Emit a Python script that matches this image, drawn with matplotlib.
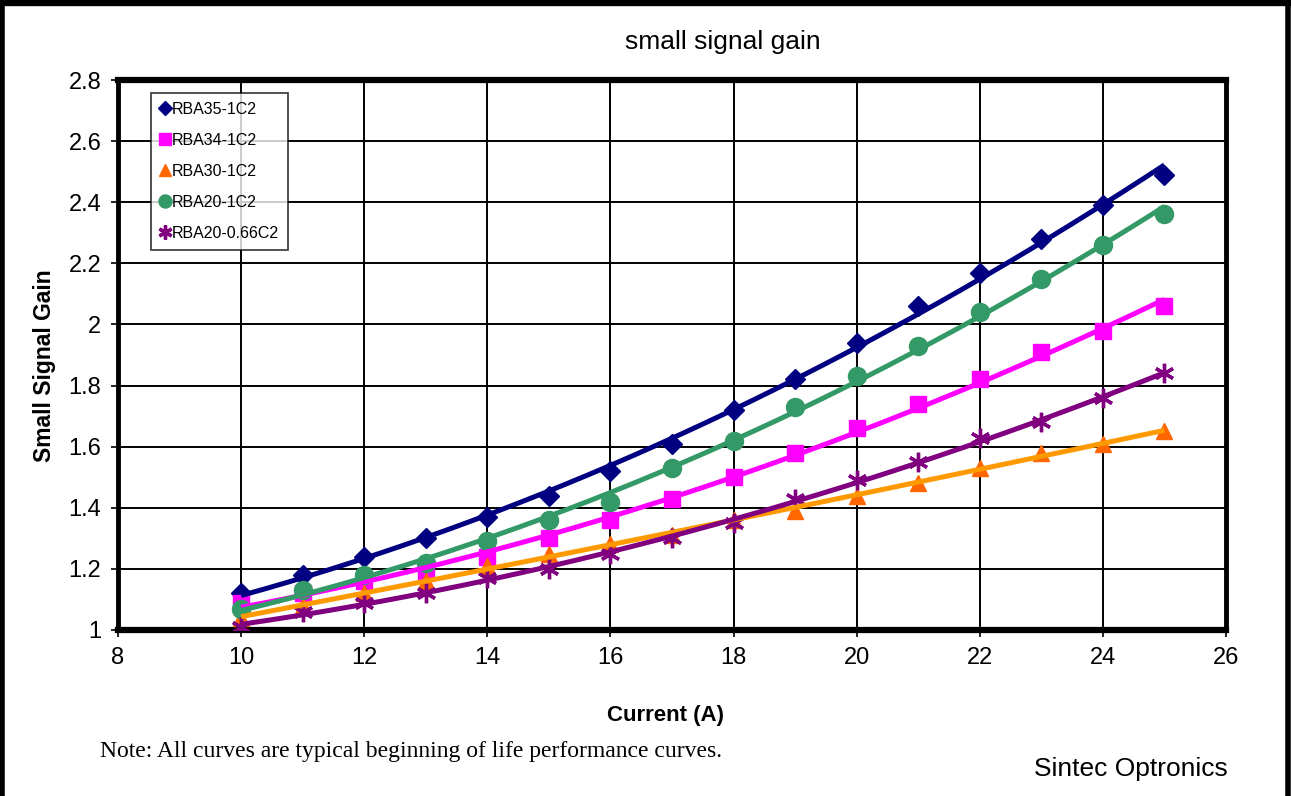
import numpy as np
import matplotlib
matplotlib.use("Agg")
import matplotlib.pyplot as plt
from matplotlib.lines import Line2D

# ==========================================
# DONNEES
# ==========================================
current = [10, 11, 12, 13, 14, 15, 16, 17, 18, 19, 20, 21, 22, 23, 24, 25]

rba35_1c2 = [1.12, 1.18, 1.24, 1.30, 1.37, 1.44, 1.52, 1.61, 1.72, 1.82, 1.94, 2.06, 2.17, 2.28, 2.39, 2.49]
rba34_1c2 = [1.09, 1.12, 1.16, 1.19, 1.24, 1.30, 1.36, 1.43, 1.50, 1.58, 1.66, 1.74, 1.82, 1.91, 1.98, 2.06]
rba30_1c2 = [1.04, 1.08, 1.12, 1.16, 1.21, 1.25, 1.28, 1.31, 1.36, 1.39, 1.44, 1.48, 1.53, 1.58, 1.61, 1.65]
rba20_1c2 = [1.07, 1.13, 1.18, 1.22, 1.29, 1.36, 1.42, 1.53, 1.62, 1.73, 1.83, 1.93, 2.04, 2.15, 2.26, 2.36]
rba20_066c2 = [1.01, 1.06, 1.09, 1.12, 1.17, 1.20, 1.25, 1.30, 1.35, 1.43, 1.49, 1.55, 1.63, 1.68, 1.76, 1.84]

labels = ["RBA35-1C2", "RBA34-1C2", "RBA30-1C2", "RBA20-1C2", "RBA20-0.66C2"]

x_ticks = [8, 10, 12, 14, 16, 18, 20, 22, 24, 26]
y_ticks = [1, 1.2, 1.4, 1.6, 1.8, 2, 2.2, 2.4, 2.6, 2.8]
y_tick_labels = ["1", "1.2", "1.4", "1.6", "1.8", "2", "2.2", "2.4", "2.6", "2.8"]

# ==========================================
# STYLE
# ==========================================
plt.rcParams['font.family'] = ['Liberation Sans', 'DejaVu Sans']

series = [
    (rba35_1c2, "D", "#000080", "#000080", 10),
    (rba34_1c2, "s", "#FF00FF", "#FF00FF", 12),
    (rba30_1c2, "^", "#FF6600", "#FF9900", 12),
    (rba20_1c2, "o", "#339966", "#339966", 13),
    (rba20_066c2, (6, 2, 0), "#800080", "#800080", 14),
]

fig = plt.figure(figsize=(12.91, 7.96), dpi=100)
ax = fig.add_axes([118 / 1291, 1 - 630 / 796, (1226 - 118) / 1291, 550 / 796])

x = np.array(current)
x_fit = np.linspace(10, 25, 200)
for (vals, marker, mcolor, lcolor, ms), lab in zip(series, labels):
    ax.plot(x, vals, linestyle="none", marker=marker, color=mcolor,
            markersize=ms, markeredgewidth=2.4 if marker == (6, 2, 0) else 1,
            label=lab, zorder=3)
    # courbe de tendance polynomiale (ordre 2) comme dans Excel
    coef = np.polyfit(x, vals, 2)
    ax.plot(x_fit, np.polyval(coef, x_fit), color=lcolor, linewidth=3.6,
            solid_capstyle="butt", zorder=4)

ax.set_xlim(8, 26)
ax.set_ylim(1, 2.8)
ax.set_xticks(x_ticks)
ax.set_yticks(y_ticks)
ax.set_yticklabels(y_tick_labels)
ax.tick_params(axis="both", labelsize=17, direction="out", length=5, width=1.2, pad=7)
ax.grid(True, color="black", linewidth=1.4)
ax.set_axisbelow(True)

for side in ["top", "bottom"]:
    ax.spines[side].set_linewidth(4.5)
for side in ["left", "right"]:
    ax.spines[side].set_linewidth(3.5)

leg = ax.legend(loc="upper left", bbox_to_anchor=(0.030, 0.976), borderaxespad=0,
                fontsize=11.5, frameon=True, fancybox=False, edgecolor="black",
                handlelength=0.6, handletextpad=0.15, borderpad=0.55,
                labelspacing=1.0, markerscale=0.72)
leg.get_frame().set_linewidth(1.2)

# textes
fig.text(723 / 1291, 1 - 42 / 796, "small signal gain", ha="center", va="center", fontsize=19)
fig.text(45 / 1291, 1 - 366 / 796, "Small Signal Gain", ha="center", va="center",
         rotation=90, fontsize=16.5, fontweight="bold")
fig.text(666 / 1291, 1 - 715 / 796, "Current (A)", ha="center", va="center",
         fontsize=16, fontweight="bold")
fig.text(100 / 1291, 1 - 752 / 796, "Note: All curves are typical beginning of life performance curves.",
         ha="left", va="center", fontsize=17, family=["Liberation Serif", "DejaVu Serif"])
fig.text(1228 / 1291, 1 - 769 / 796, "Sintec Optronics", ha="right", va="center", fontsize=19)

# cadre exterieur
for xs, ys, lw in [([0, 1], [0.997, 0.997], 6), ([0.0015, 0.0015], [0, 1], 4),
                   ([0.998, 0.998], [0, 1], 4)]:
    fig.add_artist(Line2D(xs, ys, transform=fig.transFigure, color="black", linewidth=lw))

fig.savefig("out.png", dpi=100)
